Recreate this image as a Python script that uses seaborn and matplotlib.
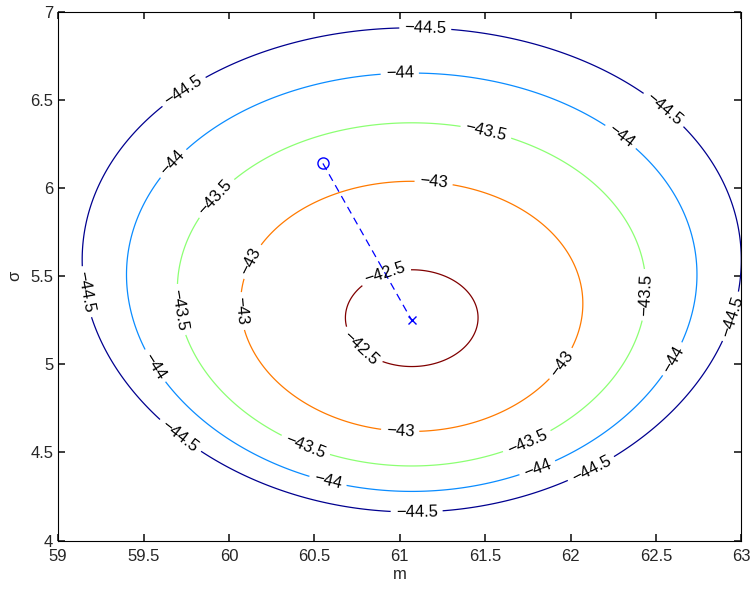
import numpy as np
import matplotlib
matplotlib.use("Agg")
import matplotlib.pyplot as plt
import seaborn as sns

sns.set_theme(style="white")
plt.rcParams['font.family'] = ['Liberation Sans', 'DejaVu Sans']

# log-likelihood surface parameters
n_obs = 33
m_hat = 61.07
s_hat = 5.25
l_max = -42.41
levels = [-44.5, -44, -43.5, -43, -42.5]
level_colors = ['#00008f', '#0a8cff', '#8cff73', '#ff7a00', '#800000']
start_pt = (60.55, 6.14)
end_pt = (61.07, 5.25)
# approximate label spots per level, as seen in the reference
label_spots = {
    -44.5: [(61.15, 6.93), (62.55, 6.45), (62.85, 5.3), (62.15, 4.35), (61.1, 4.08), (59.6, 4.45), (59.1, 5.4), (59.7, 6.6)],
    -44: [(61.0, 6.65), (62.3, 6.3), (62.65, 5.0), (61.85, 4.3), (60.55, 4.22), (59.5, 4.95), (59.55, 6.25)],
    -43.5: [(61.5, 6.3), (62.3, 5.4), (61.75, 4.55), (60.4, 4.42), (59.65, 5.3), (59.75, 6.1)],
    -43: [(61.2, 6.05), (61.95, 5.0), (61.0, 4.58), (60.05, 5.3), (60.1, 5.6)],
    -42.5: [(60.92, 5.5), (60.75, 5.07)],
}

m = np.linspace(59, 63, 400)
s = np.linspace(4, 7, 400)
M, S = np.meshgrid(m, s)
L = l_max - n_obs * (np.log(S / s_hat) + (s_hat**2 + (M - m_hat)**2) / (2 * S**2) - 0.5)

fig = plt.figure(figsize=(7.55, 5.94), dpi=100)
ax = fig.add_axes([0.077, 0.09, 0.905, 0.89])
for lev, col in zip(levels, level_colors):
    cs = ax.contour(M, S, L, levels=[lev], colors=[col], linewidths=0.9, linestyles='solid')
    ax.clabel(cs, fmt=lambda v: f"{v:g}".replace('-', '\u2212'), fontsize=12, colors='black',
              inline=True, manual=label_spots[lev])
ax.plot([start_pt[0], end_pt[0]], [start_pt[1], end_pt[1]], color='blue', linestyle=(0, (6, 4)), linewidth=0.9)
ax.plot(*start_pt, marker='o', markersize=8, markerfacecolor='none', markeredgecolor='blue')
ax.plot(*end_pt, marker='x', markersize=6, color='blue')

ax.set_xlim(59, 63)
ax.set_ylim(4, 7)
ax.set_xticks(np.arange(59, 63.01, 0.5))
ax.set_yticks(np.arange(4, 7.01, 0.5))
ax.set_xticklabels([f"{v:g}" for v in np.arange(59, 63.01, 0.5)])
ax.set_yticklabels([f"{v:g}" for v in np.arange(4, 7.01, 0.5)])
ax.tick_params(direction='in', length=5, labelsize=12, top=True, right=True, bottom=True, left=True)
ax.tick_params(axis='x', pad=6)
for sp in ax.spines.values():
    sp.set_color('black')
    sp.set_linewidth(0.8)
ax.set_xlabel('m', fontsize=12, labelpad=2)
ax.set_ylabel('σ', fontsize=12, labelpad=6)

fig.savefig('out.png', dpi=100)
